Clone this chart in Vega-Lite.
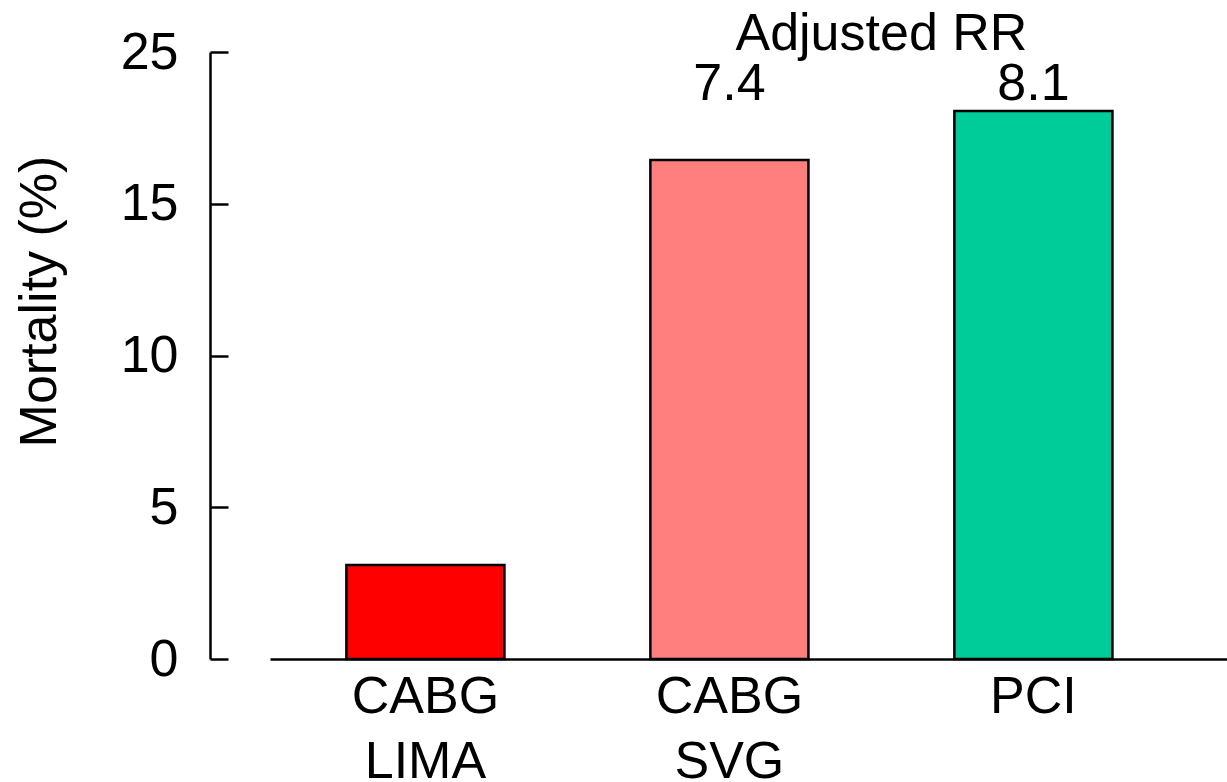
{
  "$schema": "https://vega.github.io/schema/vega-lite/v6.json",
  "width": 957,
  "height": 607,
  "autosize": "none",
  "padding": {"left": 270, "top": 52, "right": 0, "bottom": 123},
  "background": "white",
  "config": {
    "font": "Liberation Sans",
    "view": {"stroke": null}
  },
  "datasets": {
    "bars": [
      {"group": "CABG LIMA", "mortality": 3.1, "rr": ""},
      {"group": "CABG SVG", "mortality": 16.44, "rr": "7.4"},
      {"group": "PCI", "mortality": 18.06, "rr": "8.1"}
    ],
    "heading": [
      {"group": "CABG SVG", "y": 20.07, "label": "Adjusted RR"}
    ]
  },
  "layer": [
    {
      "data": {"name": "bars"},
      "mark": {"type": "bar", "stroke": "black", "strokeWidth": 2.5, "clip": false},
      "encoding": {
        "x": {
          "field": "group", "type": "nominal", "sort": null,
          "scale": {"paddingInner": 0.48, "paddingOuter": 0.314, "align": 0.4},
          "axis": {
            "title": null,
            "labelAngle": 0,
            "labelFontSize": 52,
            "labelColor": "black",
            "labelExpr": "split(datum.label, ' ')",
            "labelLineHeight": 65,
            "labelPadding": 12,
            "ticks": false,
            "domainColor": "black",
            "domainWidth": 2.5
          }
        },
        "y": {
          "field": "mortality", "type": "quantitative",
          "scale": {"domain": [0, 20], "nice": false},
          "axis": {
            "title": "Mortality (%)",
            "titleFontSize": 52,
            "titleFontWeight": "normal",
            "titleColor": "black",
            "titlePadding": 54,
            "titleY": 249,
            "values": [0, 5, 10, 15, 20],
            "labelExpr": "datum.value == 20 ? '25' : datum.label",
            "labelFontSize": 52,
            "labelColor": "black",
            "labelPadding": 50,
            "tickSize": -18,
            "tickColor": "black",
            "tickWidth": 2.5,
            "domainColor": "black",
            "domainWidth": 2.5,
            "grid": false,
            "offset": 60
          }
        },
        "color": {
          "field": "group", "type": "nominal",
          "scale": {"domain": ["CABG LIMA", "CABG SVG", "PCI"], "range": ["#ff0000", "#ff7f7f", "#00cc99"]},
          "legend": null
        }
      }
    },
    {
      "data": {"name": "bars"},
      "mark": {"type": "text", "fontSize": 52, "baseline": "alphabetic", "align": "center", "color": "black"},
      "encoding": {
        "x": {"field": "group", "type": "nominal", "sort": null},
        "y": {"datum": 18.42, "type": "quantitative"},
        "text": {"field": "rr"}
      }
    },
    {
      "data": {"name": "heading"},
      "mark": {"type": "text", "fontSize": 52, "baseline": "alphabetic", "align": "center", "color": "black", "dx": 152},
      "encoding": {
        "x": {"field": "group", "type": "nominal", "sort": null},
        "y": {"field": "y", "type": "quantitative"},
        "text": {"field": "label"}
      }
    }
  ]
}
